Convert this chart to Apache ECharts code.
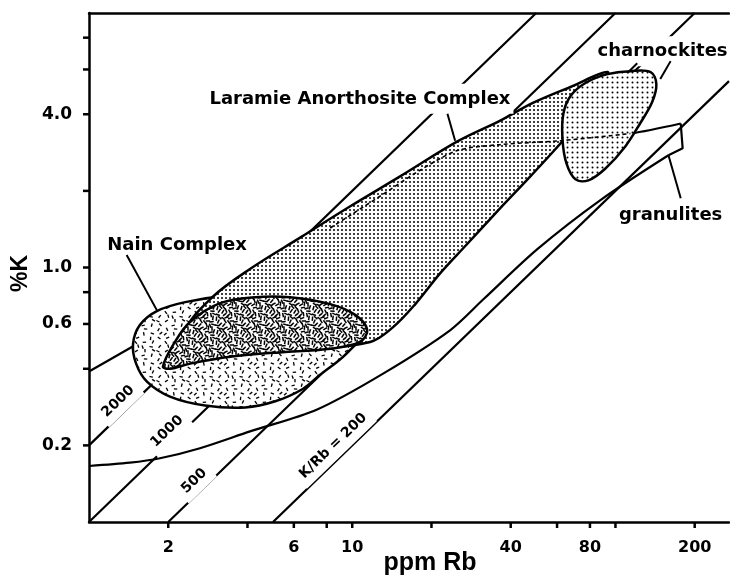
<!DOCTYPE html>
<html><head><meta charset="utf-8">
<script src="https://cdn.jsdelivr.net/npm/echarts/dist/echarts.min.js"></script>
<style>html,body{margin:0;padding:0;background:#fff}#c{width:730px;height:581px}</style>
</head><body><div id="c"></div>
<script>
// ---- axis ticks ----
const xTicks = [2, 4, 6, 8, 10, 20, 40, 60, 80, 100, 200];
const xTickLabels = ['2', '', '6', '', '10', '', '40', '', '80', '', '200'];
const yTicks = [0.2, 0.4, 0.6, 0.8, 1, 2, 4, 6, 8];
const yTickLabels = ['0.2', '', '0.6', '', '1.0', '', '4.0', '', ''];
const xMin = 1, xMax = 270, yMin = 0.1, yMax = 10;

// ---- K/Rb reference lines [Rb ppm, K %] ----
const kRb2000 = [[1, 0.2], [50, 10]];
const kRb1000 = [[1, 0.1], [100, 10]];
const kRb500 = [[2, 0.1], [200, 10]];
const kRb200 = [[5, 0.1], [270, 5.4]];

// ---- fields [Rb ppm, K %] ----
const nainOuter = [[1.47,0.501],[1.56,0.594],[1.81,0.674],[2.32,0.731],[3.44,0.778],[5.32,0.792],[8.25,0.698],[10.5,0.533],[9.40,0.454],[7.55,0.379],[6.51,0.334],[5.10,0.298],[3.92,0.282],[2.76,0.287],[2.03,0.311],[1.66,0.356],[1.51,0.419]];
const nainInner = [[1.91,0.408],[2.12,0.510],[2.42,0.611],[3.15,0.724],[4.28,0.764],[5.81,0.764],[8.25,0.718],[10.3,0.650],[11.4,0.568],[10.7,0.510],[8.25,0.479],[5.56,0.466],[3.44,0.446],[2.42,0.419],[2.03,0.400]];
const laramie = [[2.32,0.558],[2.94,0.764],[4.17,1.00],[6.34,1.31],[9.83,1.74],[15.2,2.28],[25.1,3.13],[36.5,3.78],[48.8,4.44],[67.5,5.12],[93.3,5.86],[87.7,5.03],[76.9,4.02],[61.8,3.07],[47.5,2.28],[36.5,1.71],[27.0,1.22],[21.6,0.95],[17.4,0.72],[14.3,0.583],[11.7,0.510],[6.34,0.479],[2.64,0.488]];
const charnockites = [[62.9,3.21],[63.4,4.02],[67.5,4.72],[76.9,5.31],[93.3,5.75],[114,5.91],[136,5.86],[143,5.26],[138,4.48],[124,3.68],[109,2.99],[91.6,2.45],[78.9,2.20],[70.5,2.22],[65.1,2.57]];
const granuliteUpper = [[1,0.390],[1.50,0.496],[2.22,0.627],[3.44,0.813],[5.32,1.07],[8.25,1.43],[12.8,1.91],[18.1,2.41],[25.1,2.88],[36.5,3.04],[61.8,3.15],[114,3.36],[177,3.68]];
const granuliteInside = [[8.25,1.43],[12.8,1.91],[18.1,2.41],[25.1,2.88],[36.5,3.04],[61.8,3.15],[114,3.36]];
const granuliteEnd = [[177,3.68],[180,2.94],[159,2.76]];
const granuliteLower = [[1,0.166],[1.43,0.171],[1.86,0.178],[2.64,0.195],[4.09,0.227],[7.36,0.277],[13.1,0.383],[23.6,0.568],[31.5,0.750],[50.5,1.18],[87.7,1.84],[159,2.76]];

// ---- annotations ----
const labelTexts = ['Laramie Anorthosite Complex', 'Nain Complex', 'charnockites', 'granulites'];
const labelPos = [[10.7,4.60],[2.16,1.22],[151,7.08],[162,1.61]];
const ratioTexts = ['2000', '1000', '500', 'K/Rb = 200'];
const ratioPos = [[1.29,0.298],[1.98,0.227],[2.51,0.145],[8.47,0.199]];
const arrows = [
  [[1.39,1.12],[1.81,0.680]],
  [[23.0,4.02],[24.6,3.15]],
  [[162,6.47],[148,5.50]],
  [[177,1.87],[159,2.76]]
];
const pointers = [[[121,6.35],[111,5.81]]];

// ---- textures ----
function dotPattern(size, r) {
  const c = document.createElement('canvas'); c.width = c.height = size;
  const g = c.getContext('2d'); g.fillStyle = '#fff'; g.fillRect(0,0,size,size);
  g.fillStyle = '#000'; g.beginPath(); g.arc(size/2, size/2, r, 0, Math.PI*2); g.fill();
  return {image: c, repeat: 'repeat'};
}
function dashPattern(size, n, len, lw) {
  const c = document.createElement('canvas'); c.width = c.height = size;
  const g = c.getContext('2d'); g.fillStyle = '#fff'; g.fillRect(0,0,size,size);
  g.strokeStyle = '#000'; g.lineWidth = lw; g.lineCap = 'butt';
  for (let i = 1; i <= n; i++) {
    const x = ((i * 0.7548777) % 1) * size, y = ((i * 0.5698403) % 1) * size;
    const a = ((i * 0.381966) % 1) * Math.PI;
    const dx = Math.cos(a) * len / 2, dy = Math.sin(a) * len / 2;
    for (const ox of [-size, 0, size]) for (const oy of [-size, 0, size]) {
      g.beginPath(); g.moveTo(x + ox - dx, y + oy - dy); g.lineTo(x + ox + dx, y + oy + dy); g.stroke();
    }
  }
  return {image: c, repeat: 'repeat'};
}

const FONT = '"DejaVu Sans", "Liberation Sans", sans-serif';
const AFONT = '"Liberation Sans", Arial, sans-serif';
const chart = echarts.init(document.getElementById('c'), null, {renderer: 'canvas'});

function lineSeries(data, z, width, extra) {
  return Object.assign({type: 'line', data, z, showSymbol: false, symbol: 'none', silent: true, animation: false,
    lineStyle: {color: '#000', width: width}}, extra || {});
}
function polySeries(points, fill, z) {
  return {type: 'custom', coordinateSystem: 'cartesian2d', silent: true, animation: false, z,
    data: [points[0]],
    renderItem: function (params, api) {
      const pts = points.map(p => api.coord(p));
      return {type: 'polygon', shape: {points: pts, smooth: 0.35}, style: {fill: fill, stroke: '#000', lineWidth: 2.5}};
    }};
}
const axisCommon = {type: 'log', logBase: 10, axisTick: {show: false}, axisLabel: {show: false},
  splitLine: {show: false}, minorTick: {show: false}, minorSplitLine: {show: false},
  axisLine: {show: true, onZero: false, lineStyle: {color: '#000', width: 2.5}}};

const option = {
  animation: false,
  backgroundColor: '#fff',
  grid: {left: 89, right: 1, top: 13, bottom: 55},
  xAxis: [
    Object.assign({}, axisCommon, {min: xMin, max: xMax, position: 'bottom',
      name: 'ppm Rb', nameLocation: 'middle', nameGap: 29,
      nameTextStyle: {fontFamily: AFONT, fontWeight: 'bold', fontSize: 25, color: '#000', padding: [0, 0, 0, 42]}}),
    Object.assign({}, axisCommon, {min: xMin, max: xMax, position: 'top'})
  ],
  yAxis: [Object.assign({}, axisCommon, {min: yMin, max: yMax,
    name: '%K', nameLocation: 'middle', nameGap: 57, nameRotate: 90,
    nameTextStyle: {fontFamily: AFONT, fontWeight: 'bold', fontSize: 23, color: '#000', padding: [0, 12, 0, 0]}})],
  series: [
    lineSeries(kRb2000, 2, 2.2, {
      markLine: {silent: true, symbol: ['none', 'arrow'], symbolSize: [1, 11], label: {show: false},
        lineStyle: {color: '#000', width: 2, type: 'solid'}, z: 20,
        data: arrows.map(a => [{coord: a[0]}, {coord: a[1]}]).concat(
          pointers.map(a => [{coord: a[0], symbol: 'none'}, {coord: a[1], symbol: 'none'}]))}
    }),
    lineSeries(kRb1000, 2, 2.2),
    lineSeries(kRb500, 2, 2.2),
    lineSeries(kRb200, 2, 2.2),
    lineSeries(granuliteLower, 2, 2.2, {smooth: 0.3}),
    lineSeries(granuliteUpper, 2, 2.2, {smooth: 0.3}),
    lineSeries(granuliteEnd, 2, 2.2),
    polySeries(nainOuter, dashPattern(30, 24, 3.4, 1.3), 3),
    polySeries(laramie, dotPattern(4, 1.0), 4),
    polySeries(nainInner, dashPattern(24, 40, 4.4, 1.5), 5),
    polySeries(charnockites, dotPattern(5, 1.0), 6),
    lineSeries(granuliteInside, 7, 1.6, {smooth: 0.3, lineStyle: {color: '#000', width: 1.6, type: [4, 3]}}),
    // tick marks & tick labels (x)
    {type: 'custom', coordinateSystem: 'cartesian2d', silent: true, animation: false, z: 12,
      data: xTicks.map(v => [v, yMin]),
      renderItem: function (params, api) {
        const p = api.coord([api.value(0), yMin]);
        const ch = [{type: 'line', shape: {x1: p[0], y1: p[1], x2: p[0], y2: p[1] + 6}, style: {stroke: '#000', lineWidth: 2.5}}];
        const t = xTickLabels[params.dataIndex];
        if (t) ch.push({type: 'text', style: {text: t, x: p[0], y: p[1] + 26, align: 'center', verticalAlign: 'middle',
          font: 'bold 16px ' + FONT, fill: '#000'}});
        return {type: 'group', children: ch};
      }},
    {type: 'custom', coordinateSystem: 'cartesian2d', silent: true, animation: false, z: 12,
      data: yTicks.map(v => [xMin, v]),
      renderItem: function (params, api) {
        const p = api.coord([xMin, api.value(1)]);
        const ch = [{type: 'line', shape: {x1: p[0] - 6, y1: p[1], x2: p[0], y2: p[1]}, style: {stroke: '#000', lineWidth: 2.5}}];
        const t = yTickLabels[params.dataIndex];
        if (t) ch.push({type: 'text', style: {text: t, x: p[0] - 17, y: p[1], align: 'right', verticalAlign: 'middle',
          font: 'bold 17px ' + FONT, fill: '#000'}});
        return {type: 'group', children: ch};
      }},
    // field labels
    {type: 'scatter', silent: true, animation: false, z: 15, symbolSize: 0, clip: false,
      itemStyle: {opacity: 1},
      data: labelPos.map((p, i) => ({value: p, label: {formatter: labelTexts[i]}})),
      label: {show: true, position: 'inside', color: '#000', fontFamily: FONT, fontWeight: 'bold', fontSize: 18,
        backgroundColor: '#fff', padding: [6, 3]}},
    // ratio labels
    {type: 'scatter', silent: true, animation: false, z: 15, symbolSize: 0, clip: false,
      itemStyle: {opacity: 1},
      data: ratioPos.map((p, i) => ({value: p, label: {formatter: ratioTexts[i]}})),
      label: {show: true, position: 'inside', rotate: 44, color: '#000', fontFamily: FONT, fontWeight: 'bold', fontSize: 14,
        backgroundColor: '#fff', padding: [1, 5, 10, 5]}}
  ]
};
chart.setOption(option);
</script>
</body></html>
